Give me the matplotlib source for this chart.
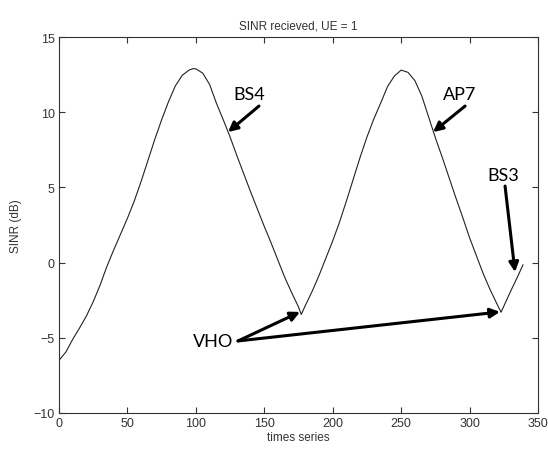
import matplotlib
matplotlib.use("Agg")
import matplotlib.pyplot as plt

# SINR trace (time index, dB)
t = [0, 5, 10, 15, 20, 25, 30, 35, 40, 45, 50, 55, 60, 65, 70, 75, 80, 85, 90, 95, 98,
     100, 105, 110, 115, 120, 125, 130, 135, 140, 145, 150, 155, 160, 165, 170, 175, 177,
     180, 185, 190, 195, 200, 205, 210, 215, 220, 225, 230, 235, 240, 245, 250,
     255, 260, 265, 270, 275, 280, 285, 290, 295, 300, 305, 310, 315, 320, 323,
     330, 335, 339]
sinr = [-6.5, -5.95, -5.1, -4.35, -3.55, -2.6, -1.5, -0.25, 0.85, 1.9, 2.95, 4.1, 5.4, 6.8, 8.2, 9.5, 10.7, 11.75, 12.45, 12.8, 12.9,
        12.88, 12.6, 11.85, 10.6, 9.5, 8.35, 7.1, 5.9, 4.7, 3.55, 2.4, 1.3, 0.15, -1.0, -2.0, -2.95, -3.45,
        -2.85, -1.9, -0.85, 0.3, 1.45, 2.7, 4.1, 5.55, 7.0, 8.35, 9.55, 10.6, 11.7, 12.4, 12.8,
        12.65, 12.1, 11.1, 9.7, 8.3, 7.0, 5.65, 4.3, 3.0, 1.65, 0.45, -0.75, -1.8, -2.75, -3.3,
        -1.9, -0.95, -0.15]

xticks = [0, 50, 100, 150, 200, 250, 300, 350]
yticks = [-10, -5, 0, 5, 10, 15]

plt.rcParams['font.family'] = ['Liberation Sans', 'DejaVu Sans']

fig = plt.figure(figsize=(5.48, 4.52), dpi=100)
ax = fig.add_axes([0.1077, 0.0841, 0.8741, 0.8318])

ax.plot(t, sinr, color='#222222', linewidth=0.8)

ax.set_xlim(0, 350)
ax.set_ylim(-10, 15)
ax.set_xticks(xticks)
ax.set_yticks(yticks)
ax.tick_params(direction='in', top=True, right=True, length=4, width=0.8,
               labelsize=9, colors='#333333', pad=3)
for s in ax.spines.values():
    s.set_color('#333333')
    s.set_linewidth(0.8)

ax.set_title('SINR recieved, UE = 1', fontsize=8.5, color='#333333', pad=6)
ax.set_xlabel('times series', fontsize=8.5, color='#333333', labelpad=1)
ax.set_ylabel('SINR (dB)', fontsize=8.5, color='#333333', labelpad=8)

# labels with arrows
lab = dict(fontsize=13, family=['Lato', 'DejaVu Sans'], ha='center', va='center', color='black')
arw = dict(arrowstyle='-|>', color='black', lw=2.2, mutation_scale=14, shrinkA=0, shrinkB=0)

ax.text(138.8, 11.2, 'BS4', **lab)
ax.annotate('', xy=(123.5, 8.68), xytext=(146.1, 10.41), arrowprops=arw)

ax.text(293, 11.2, 'AP7', **lab)
ax.annotate('', xy=(273.3, 8.68), xytext=(296.7, 10.41), arrowprops=arw)

ax.text(324.4, 5.82, 'BS3', **lab)
ax.annotate('', xy=(333.2, -0.63), xytext=(325.9, 5.09), arrowprops=arw)

ax.text(112.5, -5.21, 'VHO', **lab)
ax.annotate('', xy=(176.1, -3.28), xytext=(130.8, -5.21), arrowprops=arw)
ax.annotate('', xy=(322.2, -3.28), xytext=(130.8, -5.21), arrowprops=arw)

fig.savefig('out.png', dpi=100)
